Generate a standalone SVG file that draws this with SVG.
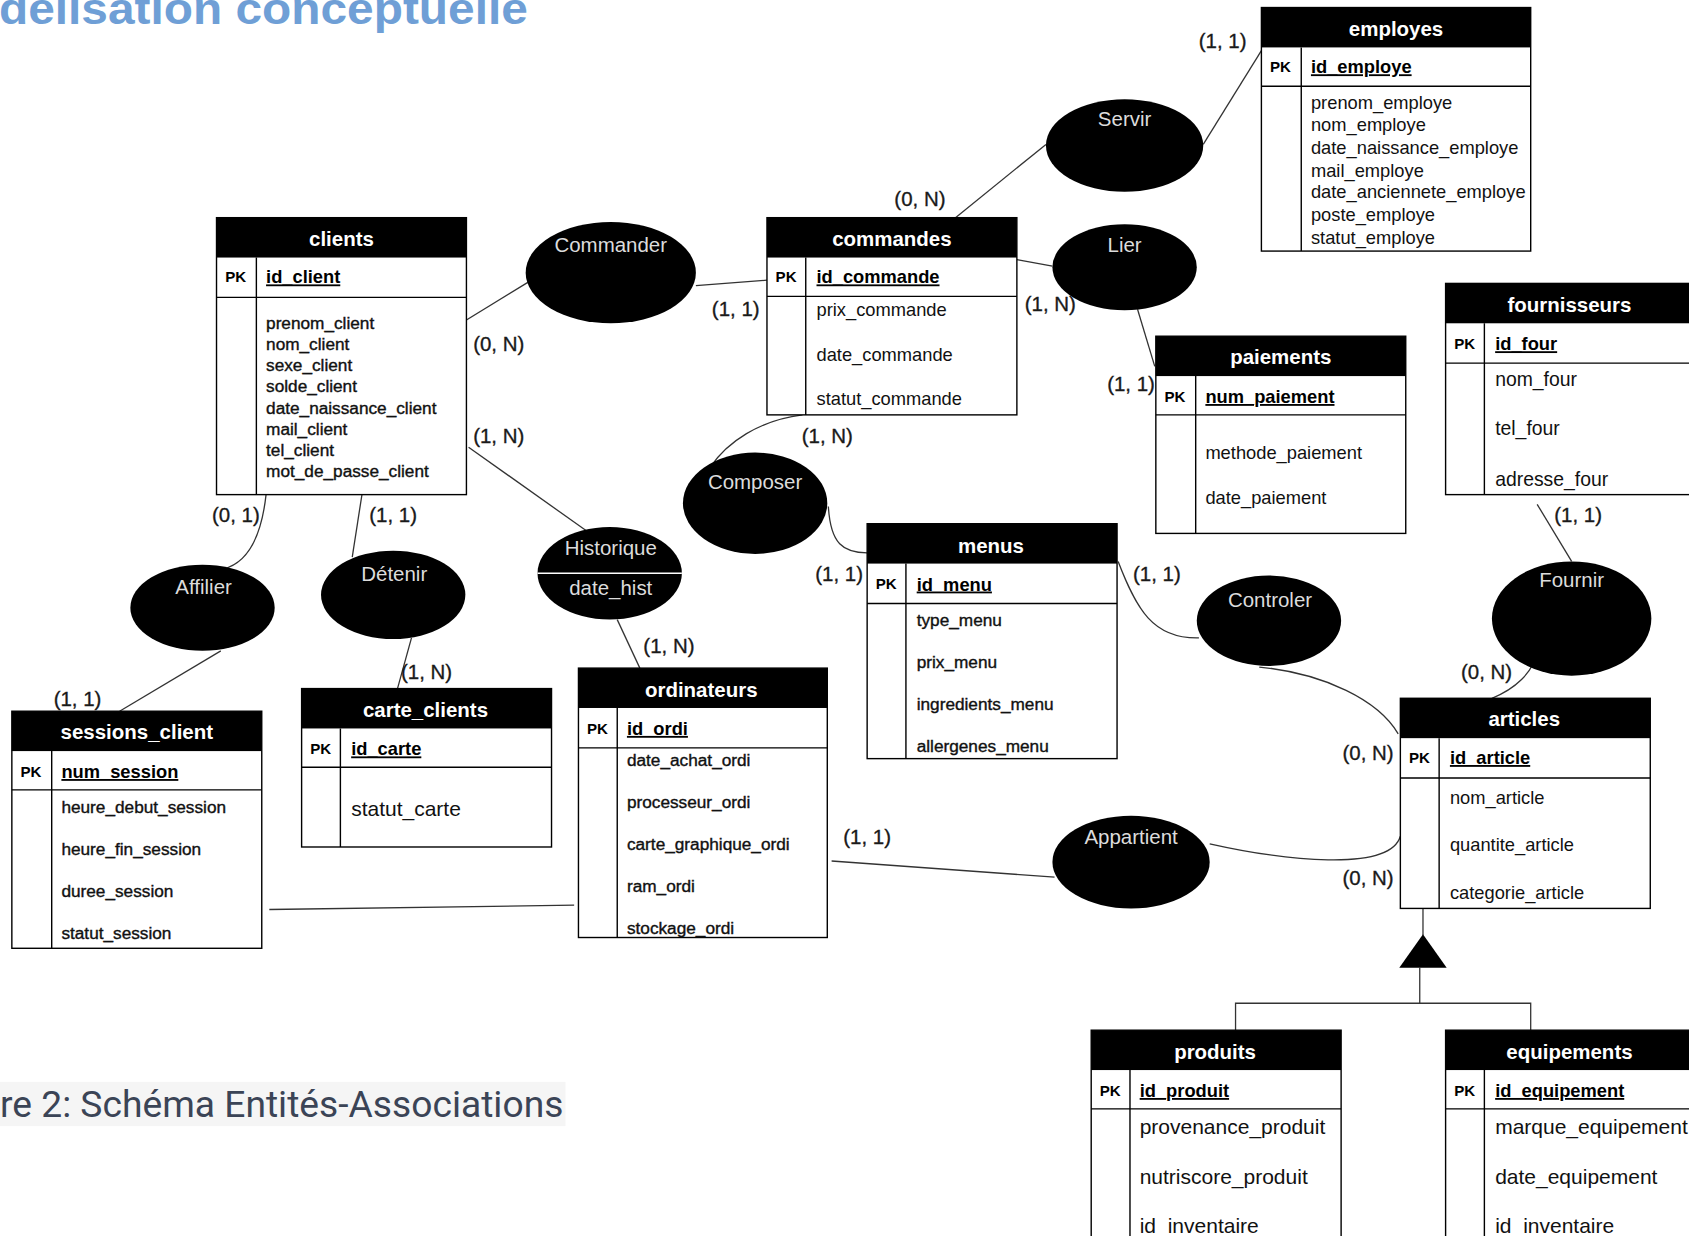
<svg xmlns="http://www.w3.org/2000/svg" width="1689" height="1236" viewBox="0 0 1689 1236">
<style>
text{font-family:'Liberation Sans',Arial,sans-serif}
.bx{fill:#fff;stroke:#000;stroke-width:1.3}
.hd{fill:#000}
.ln{stroke:#000;stroke-width:1.3;fill:none}
.ht{font-size:19px;font-weight:bold;fill:#fff;text-anchor:middle}
.pk{font-size:14px;font-weight:bold;fill:#000}
.pa{font-size:17px;font-weight:bold;fill:#000;text-decoration:underline}
.at{font-size:17px;fill:#111}
.a16{font-size:16px;fill:#111;stroke:#111;stroke-width:0.35}
.a18{font-size:18px;fill:#111}
.a19{font-size:19.5px;fill:#111}
.el{fill:#000}
.et{font-size:19px;fill:#dcdcdc;text-anchor:middle}
.cd{font-size:19px;fill:#1a1a1a;stroke:#1a1a1a;stroke-width:0.3;text-anchor:middle}
.cn{fill:none;stroke:#333;stroke-width:1.2}
</style>
<rect width="1689" height="1236" fill="#fff"/>
<g transform="scale(1.0772 1.0776)">
<text x="-1" y="22" font-size="42" font-weight="bold" fill="#6f9fd6" textLength="491" lengthAdjust="spacingAndGlyphs">delisation conceptuelle</text>
<rect x="0" y="1004" width="525" height="41" fill="#f5f5f5"/>
<text x="0" y="1037" style="font-family:Roboto,'Liberation Sans',sans-serif" font-size="35" fill="#3b4456" textLength="523" lengthAdjust="spacingAndGlyphs">re 2: Schéma Entités-Associations</text>

<g id="connectors">
<path class="cn" d="M433 297 L490 262"/>
<path class="cn" d="M646 265 L712 260"/>
<path class="cn" d="M887 202 L971 134"/>
<path class="cn" d="M1117 134 L1171 47"/>
<path class="cn" d="M944 241 L977 247"/>
<path class="cn" d="M1056 287 L1072 340"/>
<path class="cn" d="M435 415 L545 493"/>
<path class="cn" d="M573 575 L594 620"/>
<path class="cn" d="M745 385 C705 390 675 410 659 434"/>
<path class="cn" d="M769 470 C771 505 783 513 805 513"/>
<path class="cn" d="M1038 521 C1055 565 1070 593 1113 592"/>
<path class="cn" d="M1169 619 C1230 625 1280 650 1298 681"/>
<path class="cn" d="M1427 468 L1459 521"/>
<path class="cn" d="M1428 602 C1424 625 1405 640 1385 648"/>
<path class="cn" d="M1123 783 C1190 798 1290 810 1300 776"/>
<path class="cn" d="M772 799 L979 814"/>
<path class="cn" d="M250 844 L533 840"/>
<path class="cn" d="M247 459 C243 495 232 522 207 528"/>
<path class="cn" d="M205 604 L111 660"/>
<path class="cn" d="M336 459 L327 517"/>
<path class="cn" d="M382 592 L369 639"/>
<path class="cn" d="M1321 843 L1321 868"/>
<path class="cn" d="M1318 898 L1318 931"/>
<path class="cn" d="M1147 956 L1147 931 L1421 931 L1421 956"/>
<polygon points="1321,867 1299,898 1343,898" fill="#000"/>
</g>

<g id="clients">
<rect class="bx" x="201" y="202" width="232" height="257"/>
<rect class="hd" x="201" y="202" width="232" height="37"/>
<path class="ln" d="M201 276 H433 M238 239 V459"/>
<text class="ht" x="317" y="228">clients</text>
<text class="pk" x="209" y="262">PK</text>
<text class="pa" x="247" y="263">id_client</text>
<text class="a16" x="247" y="305.5">prenom_client</text>
<text class="a16" x="247" y="325">nom_client</text>
<text class="a16" x="247" y="344.6">sexe_client</text>
<text class="a16" x="247" y="364.2">solde_client</text>
<text class="a16" x="247" y="383.8">date_naissance_client</text>
<text class="a16" x="247" y="403.4">mail_client</text>
<text class="a16" x="247" y="423">tel_client</text>
<text class="a16" x="247" y="442.6">mot_de_passe_client</text>
</g>

<g id="commandes">
<rect class="bx" x="712" y="202" width="232" height="183"/>
<rect class="hd" x="712" y="202" width="232" height="37"/>
<path class="ln" d="M712 275 H944 M748 239 V385"/>
<text class="ht" x="828" y="228">commandes</text>
<text class="pk" x="720" y="262">PK</text>
<text class="pa" x="758" y="263">id_commande</text>
<text class="at" x="758" y="293">prix_commande</text>
<text class="at" x="758" y="335">date_commande</text>
<text class="at" x="758" y="376">statut_commande</text>
</g>

<g id="employes">
<rect class="bx" x="1171" y="7" width="250" height="226"/>
<rect class="hd" x="1171" y="7" width="250" height="37"/>
<path class="ln" d="M1171 80 H1421 M1208 44 V233"/>
<text class="ht" x="1296" y="33">employes</text>
<text class="pk" x="1179" y="67">PK</text>
<text class="pa" x="1217" y="68">id_employe</text>
<text class="at" x="1217" y="101">prenom_employe</text>
<text class="at" x="1217" y="122">nom_employe</text>
<text class="at" x="1217" y="143">date_naissance_employe</text>
<text class="at" x="1217" y="164">mail_employe</text>
<text class="at" x="1217" y="184">date_anciennete_employe</text>
<text class="at" x="1217" y="205">poste_employe</text>
<text class="at" x="1217" y="226">statut_employe</text>
</g>

<g id="paiements">
<rect class="bx" x="1073" y="312" width="232" height="183"/>
<rect class="hd" x="1073" y="312" width="232" height="37"/>
<path class="ln" d="M1073 385 H1305 M1110 349 V495"/>
<text class="ht" x="1189" y="338">paiements</text>
<text class="pk" x="1081" y="373">PK</text>
<text class="pa" x="1119" y="374">num_paiement</text>
<text class="at" x="1119" y="426">methode_paiement</text>
<text class="at" x="1119" y="468">date_paiement</text>
</g>

<g id="fournisseurs">
<rect class="bx" x="1342" y="263" width="250" height="196"/>
<rect class="hd" x="1342" y="263" width="250" height="37"/>
<path class="ln" d="M1342 337 H1592 M1378 300 V459"/>
<text class="ht" x="1457" y="290">fournisseurs</text>
<text class="pk" x="1350" y="324">PK</text>
<text class="pa" x="1388" y="325">id_four</text>
<text class="a18" x="1388" y="358">nom_four</text>
<text class="a18" x="1388" y="404">tel_four</text>
<text class="a18" x="1388" y="451">adresse_four</text>
</g>

<g id="menus">
<rect class="bx" x="805" y="486" width="232" height="218"/>
<rect class="hd" x="805" y="486" width="232" height="37"/>
<path class="ln" d="M805 560 H1037 M841 523 V704"/>
<text class="ht" x="920" y="513">menus</text>
<text class="pk" x="813" y="547">PK</text>
<text class="pa" x="851" y="548">id_menu</text>
<text class="a16" x="851" y="580.5">type_menu</text>
<text class="a16" x="851" y="619.5">prix_menu</text>
<text class="a16" x="851" y="658.5">ingredients_menu</text>
<text class="a16" x="851" y="697.5">allergenes_menu</text>
</g>

<g id="carte_clients">
<rect class="bx" x="280" y="639" width="232" height="147"/>
<rect class="hd" x="280" y="639" width="232" height="37"/>
<path class="ln" d="M280 712 H512 M316 676 V786"/>
<text class="ht" x="395" y="665">carte_clients</text>
<text class="pk" x="288" y="700">PK</text>
<text class="pa" x="326" y="701">id_carte</text>
<text class="a19" x="326" y="757">statut_carte</text>
</g>

<g id="sessions_client">
<rect class="bx" x="11" y="660" width="232" height="220"/>
<rect class="hd" x="11" y="660" width="232" height="37"/>
<path class="ln" d="M11 733 H243 M48 697 V880"/>
<text class="ht" x="127" y="686">sessions_client</text>
<text class="pk" x="19" y="721">PK</text>
<text class="pa" x="57" y="722">num_session</text>
<text class="a16" x="57" y="754.5">heure_debut_session</text>
<text class="a16" x="57" y="793.5">heure_fin_session</text>
<text class="a16" x="57" y="832.5">duree_session</text>
<text class="a16" x="57" y="871.5">statut_session</text>
</g>

<g id="ordinateurs">
<rect class="bx" x="537" y="620" width="231" height="250"/>
<rect class="hd" x="537" y="620" width="231" height="37"/>
<path class="ln" d="M537 694 H768 M573 657 V870"/>
<text class="ht" x="651" y="647">ordinateurs</text>
<text class="pk" x="545" y="681">PK</text>
<text class="pa" x="582" y="682">id_ordi</text>
<text class="a16" x="582" y="710.5">date_achat_ordi</text>
<text class="a16" x="582" y="749.5">processeur_ordi</text>
<text class="a16" x="582" y="788.5">carte_graphique_ordi</text>
<text class="a16" x="582" y="827.5">ram_ordi</text>
<text class="a16" x="582" y="866.5">stockage_ordi</text>
</g>

<g id="articles">
<rect class="bx" x="1300" y="648" width="232" height="195"/>
<rect class="hd" x="1300" y="648" width="232" height="37"/>
<path class="ln" d="M1300 722 H1532 M1336 685 V843"/>
<text class="ht" x="1415" y="674">articles</text>
<text class="pk" x="1308" y="708">PK</text>
<text class="pa" x="1346" y="709">id_article</text>
<text class="at" x="1346" y="746">nom_article</text>
<text class="at" x="1346" y="790">quantite_article</text>
<text class="at" x="1346" y="834">categorie_article</text>
</g>

<g id="produits">
<rect class="bx" x="1013" y="956" width="232" height="210"/>
<rect class="hd" x="1013" y="956" width="232" height="37"/>
<path class="ln" d="M1013 1029 H1245 M1049 993 V1166"/>
<text class="ht" x="1128" y="983">produits</text>
<text class="pk" x="1021" y="1017">PK</text>
<text class="pa" x="1058" y="1018">id_produit</text>
<text class="a19" x="1058" y="1052.5">provenance_produit</text>
<text class="a19" x="1058" y="1098.5">nutriscore_produit</text>
<text class="a19" x="1058" y="1144.5">id_inventaire</text>
</g>

<g id="equipements">
<rect class="bx" x="1342" y="956" width="260" height="210"/>
<rect class="hd" x="1342" y="956" width="260" height="37"/>
<path class="ln" d="M1342 1029 H1602 M1378 993 V1166"/>
<text class="ht" x="1457" y="983">equipements</text>
<text class="pk" x="1350" y="1017">PK</text>
<text class="pa" x="1388" y="1018">id_equipement</text>
<text class="a19" x="1388" y="1052.5">marque_equipement</text>
<text class="a19" x="1388" y="1098.5">date_equipement</text>
<text class="a19" x="1388" y="1144.5">id_inventaire</text>
</g>

<g id="Commander"><ellipse class="el" cx="567" cy="253" rx="79" ry="47"/><text class="et" x="567" y="234">Commander</text></g>
<g id="Servir"><ellipse class="el" cx="1044" cy="135" rx="73" ry="43"/><text class="et" x="1044" y="117">Servir</text></g>
<g id="Lier"><ellipse class="el" cx="1044" cy="248" rx="67" ry="40"/><text class="et" x="1044" y="234">Lier</text></g>
<g id="Composer"><ellipse class="el" cx="701" cy="467" rx="67" ry="47"/><text class="et" x="701" y="454">Composer</text></g>
<g id="Historique"><ellipse class="el" cx="566" cy="532" rx="67" ry="43"/><line x1="499" y1="532" x2="633" y2="532" stroke="#fff" stroke-width="1.3"/><text class="et" x="567" y="515">Historique</text><text class="et" x="567" y="552">date_hist</text></g>
<g id="Affilier"><ellipse class="el" cx="188" cy="564" rx="67" ry="40"/><text class="et" x="189" y="551">Affilier</text></g>
<g id="Detenir"><ellipse class="el" cx="365" cy="552" rx="67" ry="41"/><text class="et" x="366" y="539">Détenir</text></g>
<g id="Controler"><ellipse class="el" cx="1178" cy="576" rx="67" ry="42"/><text class="et" x="1179" y="563">Controler</text></g>
<g id="Fournir"><ellipse class="el" cx="1459" cy="574" rx="74" ry="53"/><text class="et" x="1459" y="545">Fournir</text></g>
<g id="Appartient"><ellipse class="el" cx="1050" cy="800" rx="73" ry="43"/><text class="et" x="1050" y="783">Appartient</text></g>

<g id="cardinalities">
<text class="cd" x="1135" y="45">(1, 1)</text>
<text class="cd" x="854" y="191">(0, N)</text>
<text class="cd" x="683" y="293">(1, 1)</text>
<text class="cd" x="463" y="326">(0, N)</text>
<text class="cd" x="975" y="289">(1, N)</text>
<text class="cd" x="1050" y="363">(1, 1)</text>
<text class="cd" x="463" y="411">(1, N)</text>
<text class="cd" x="768" y="411">(1, N)</text>
<text class="cd" x="219" y="484">(0, 1)</text>
<text class="cd" x="365" y="484">(1, 1)</text>
<text class="cd" x="1465" y="484">(1, 1)</text>
<text class="cd" x="779" y="539">(1, 1)</text>
<text class="cd" x="1074" y="539">(1, 1)</text>
<text class="cd" x="621" y="606">(1, N)</text>
<text class="cd" x="396" y="630">(1, N)</text>
<text class="cd" x="1380" y="630">(0, N)</text>
<text class="cd" x="72" y="655">(1, 1)</text>
<text class="cd" x="1270" y="705">(0, N)</text>
<text class="cd" x="805" y="783">(1, 1)</text>
<text class="cd" x="1270" y="821">(0, N)</text>
</g>
</g>
</svg>
